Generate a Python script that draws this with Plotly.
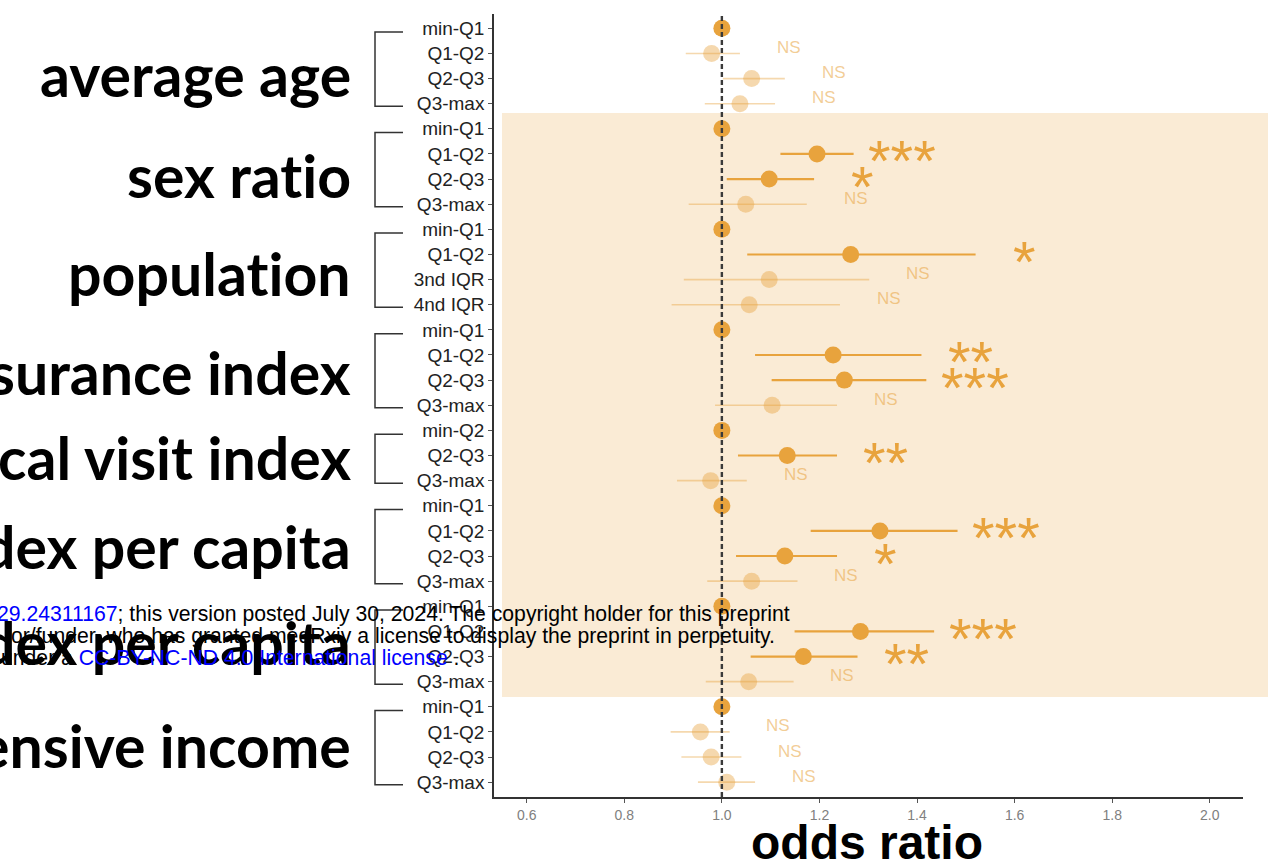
import plotly.graph_objects as go

# ---------------- data ----------------
group_names = ["average age", "sex ratio", "population", "surance index",
               "cal visit index", "dex per capita", "dex per capita", "ensive income"]
group_sizes = [4, 4, 4, 4, 3, 4, 4, 4]

row_labels = ["min-Q1", "Q1-Q2", "Q2-Q3", "Q3-max",
              "min-Q1", "Q1-Q2", "Q2-Q3", "Q3-max",
              "min-Q1", "Q1-Q2", "3nd IQR", "4nd IQR",
              "min-Q1", "Q1-Q2", "Q2-Q3", "Q3-max",
              "min-Q2", "Q2-Q3", "Q3-max",
              "min-Q1", "Q1-Q2", "Q2-Q3", "Q3-max",
              "min-Q1", "Q1-Q2", "Q2-Q3", "Q3-max",
              "min-Q1", "Q1-Q2", "Q2-Q3", "Q3-max"]

odds_ratio = [1.0, 0.979, 1.061, 1.037,
              1.0, 1.195, 1.097, 1.049,
              1.0, 1.264, 1.097, 1.056,
              1.0, 1.228, 1.251, 1.103,
              1.0, 1.134, 0.977,
              1.0, 1.324, 1.129, 1.061,
              1.0, 1.284, 1.167, 1.055,
              1.0, 0.956, 0.978, 1.010]

ci_lower = [1.0, 0.926, 1.002, 0.965,
            1.0, 1.120, 1.010, 0.932,
            1.0, 1.052, 0.922, 0.897,
            1.0, 1.068, 1.102, 0.986,
            1.0, 1.033, 0.908,
            1.0, 1.182, 1.029, 0.970,
            1.0, 1.149, 1.059, 0.967,
            1.0, 0.895, 0.917, 0.951]

ci_upper = [1.0, 1.037, 1.129, 1.109,
            1.0, 1.270, 1.189, 1.174,
            1.0, 1.520, 1.302, 1.242,
            1.0, 1.409, 1.419, 1.236,
            1.0, 1.236, 1.051,
            1.0, 1.483, 1.236, 1.155,
            1.0, 1.435, 1.278, 1.147,
            1.0, 1.016, 1.040, 1.068]

signif = ["", "NS", "NS", "NS",
          "", "***", "*", "NS",
          "", "*", "NS", "NS",
          "", "**", "***", "NS",
          "", "**", "NS",
          "", "***", "*", "NS",
          "", "***", "**", "NS",
          "", "NS", "NS", "NS"]

x_ticks = [0.6, 0.8, 1.0, 1.2, 1.4, 1.6, 1.8, 2.0]

# ---------------- layout constants ----------------
W, H = 1268, 861
L, R, T, B = 494, 25, 14, 64
PW, PH = W - L - R, H - T - B


def px_x(px):
    return (px - L) / PW


def px_y(py):
    return 1 - (py - T) / PH


DARK = "#E8A33D"
LIGHT = "rgba(232,163,61,0.42)"
LIGHT_TXT = "rgba(232,163,61,0.55)"
SHADE = "#FAEBD5"
AXIS = "#333333"
SANS = "Liberation Sans, Arial, sans-serif"

n = len(row_labels)
ypos = list(range(n))

sig_idx = [i for i in range(n) if signif[i] != "NS"]
ns_idx = [i for i in range(n) if signif[i] == "NS"]

fig = go.Figure()


def add_points(idx, color, lw, name):
    fig.add_trace(go.Scatter(
        x=[odds_ratio[i] for i in idx],
        y=[ypos[i] for i in idx],
        mode="markers",
        marker=dict(color=color, size=17, line=dict(width=0)),
        error_x=dict(type="data", symmetric=False,
                     array=[ci_upper[i] - odds_ratio[i] for i in idx],
                     arrayminus=[odds_ratio[i] - ci_lower[i] for i in idx],
                     color=color, thickness=lw, width=0),
        showlegend=False, name=name, hoverinfo="skip"))


add_points(ns_idx, LIGHT, 1.6, "NS")
add_points(sig_idx, DARK, 2.2, "significant")

# significance labels
for i in range(n):
    s = signif[i]
    if not s:
        continue
    if s == "NS":
        fig.add_annotation(x=ci_upper[i] + 0.1, y=ypos[i], xref="x", yref="y",
                           text=s, showarrow=False, xanchor="center", yanchor="middle",
                           yshift=6, font=dict(family=SANS, size=17, color=LIGHT_TXT))
    else:
        fig.add_annotation(x=ci_upper[i] + 0.1, y=ypos[i], xref="x", yref="y",
                           text=s, showarrow=False, xanchor="center", yanchor="middle",
                           yshift=-7, font=dict(family=SANS, size=58, color=DARK))

shapes = []
# shaded band for groups 2-7
shapes.append(dict(type="rect", xref="paper", yref="paper", x0=px_x(502), x1=px_x(1270),
                   y0=px_y(697), y1=px_y(113), fillcolor=SHADE, line=dict(width=0),
                   layer="below"))
# reference line
shapes.append(dict(type="line", xref="x", yref="paper", x0=1.0, x1=1.0, y0=0, y1=1,
                   line=dict(color="#3a3a3a", width=2.4, dash="5px,3px"), layer="above"))

# group brackets and big labels
label_y_px = [78, 178, 276, 375, 460, 549, 645, 748]
NOLIG = "font-variant-ligatures:none;letter-spacing:0.01px"
start = 0
for g, size in enumerate(group_sizes):
    top = start + 0.15
    bot = start + size - 1 + 0.1
    bx0, bx1 = px_x(375), px_x(403)
    shapes.append(dict(type="path", xref="paper", yref="y",
                       path=f"M {bx1},{top} L {bx0},{top} L {bx0},{bot} L {bx1},{bot}",
                       line=dict(color=AXIS, width=1.5)))
    fig.add_annotation(x=px_x(353), y=px_y(label_y_px[g]), xref="paper", yref="paper",
                       text=f"<span style='{NOLIG}'>{group_names[g]}</span>",
                       showarrow=False, xanchor="right", yanchor="middle",
                       yshift=3,
                       font=dict(family="Lato, Open Sans, sans-serif", size=59,
                                 color="#000000", weight="bold"))
    start += size

# x axis title
fig.add_annotation(x=px_x(867), y=px_y(842), xref="paper", yref="paper",
                   text="<b>odds ratio</b>", showarrow=False, xanchor="center", yanchor="middle",
                   font=dict(family=SANS, size=48, color="#000000"))

# overlaid preprint notice
BLUE = "#0000FF"
notice = [
    (792, 614, f"<span style='color:{BLUE}'>29.24311167</span>; this version posted July 30, 2024. The copyright holder for this preprint"),
    (777, 636, "or/funder, who has granted medRxiv a license to display the preprint in perpetuity."),
    (462, 657, f"under a <span style='color:{BLUE}'>CC-BY-NC-ND 4.0 International license</span> ."),
]
for xr, yc, txt in notice:
    fig.add_annotation(x=px_x(xr), y=px_y(yc), xref="paper", yref="paper",
                       text=txt, showarrow=False, xanchor="right", yanchor="middle",
                       font=dict(family=SANS, size=21.2, color="#000000"))

fig.update_layout(
    width=W, height=H,
    margin=dict(l=L, r=R, t=T, b=B, pad=0),
    plot_bgcolor="white", paper_bgcolor="white",
    shapes=shapes,
    showlegend=False,
    xaxis=dict(range=[0.533, 2.068], tickvals=x_ticks,
               ticktext=[f"{v:.1f}" for v in x_ticks],
               showline=True, linecolor=AXIS, linewidth=1.5, mirror=False,
               ticks="outside", ticklen=4, tickcolor="#555555", tickwidth=1,
               tickfont=dict(family=SANS, size=14, color="#808080"),
               showgrid=False, zeroline=False),
    yaxis=dict(range=[30.59, -0.57], tickvals=ypos, ticktext=row_labels,
               showline=True, linecolor=AXIS, linewidth=1.5,
               ticks="outside", ticklen=4, tickcolor="#555555", tickwidth=1,
               tickfont=dict(family=SANS, size=19, color="#222222"),
               showgrid=False, zeroline=False),
)

fig.write_html("out.html", config={"displayModeBar": False},
               post_script="document.body.style.margin='0';document.body.style.overflow='hidden';")
